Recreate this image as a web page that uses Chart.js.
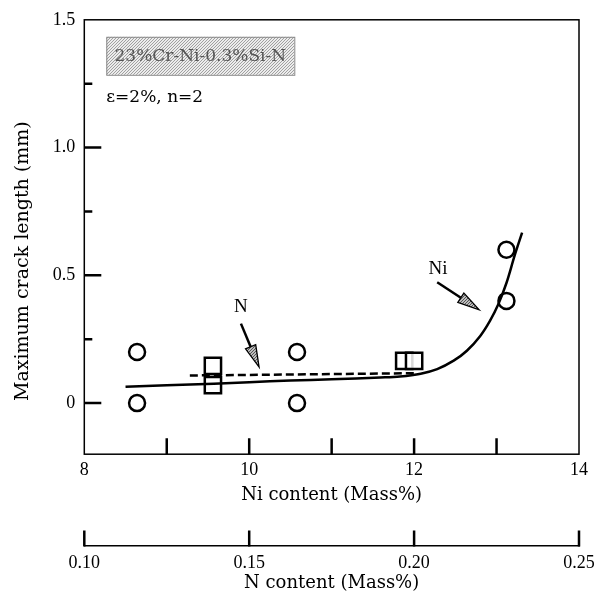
<!DOCTYPE html>
<html><head><meta charset="utf-8">
<script src="https://cdn.jsdelivr.net/npm/chart.js@4.4.0/dist/chart.umd.min.js"></script>
<style>html,body{margin:0;padding:0;background:#fff;}</style>
</head><body>
<canvas id="c" width="613" height="600"></canvas>
<script>
// ---- data ----
const niCircleX = [8.64, 8.64, 10.58, 10.58, 13.12, 13.12];
const niCircleY = [0.20, 0.00, 0.20, 0.00, 0.60, 0.40];
const nSquareX = [0.139, 0.139, 0.197, 0.200];
const nSquareY = [0.146, 0.070, 0.165, 0.165];
const niCurveX = [8.50, 9.00, 9.57, 10.00, 10.50, 11.00, 11.59, 11.83, 12.08, 12.28, 12.48, 12.64, 12.80, 12.92, 13.02, 13.12, 13.22, 13.31];
const niCurveY = [0.064, 0.070, 0.076, 0.082, 0.088, 0.093, 0.100, 0.104, 0.115, 0.133, 0.166, 0.205, 0.262, 0.322, 0.386, 0.470, 0.578, 0.667];
const nTrendX = [0.132, 0.200];
const nTrendY = [0.108, 0.117];
const niTicks = [8, 9, 10, 11, 12, 13, 14];
const niTickLabels = ['8', '', '10', '', '12', '', '14'];
const nTicks = [0.10, 0.15, 0.20, 0.25];
const nTickLabels = ['0.10', '0.15', '0.20', '0.25'];
const yTicks = [0, 0.25, 0.5, 0.75, 1.0, 1.25, 1.5];
const yTickLabels = ['0', '', '0.5', '', '1.0', '', '1.5'];
const alloyLabel = '23%Cr-Ni-0.3%Si-N';
const condLabel = 'ε=2%, n=2';
// annotation arrows in (Ni, crack length) coordinates
const arrowN = {text: 'N', tx: 9.90, ty: 0.377, x1: 9.90, y1: 0.311, x2: 10.12, y2: 0.141};
const arrowNi = {text: 'Ni', tx: 12.29, ty: 0.524, x1: 12.28, y1: 0.473, x2: 12.79, y2: 0.365};

const pts = (xs, ys) => xs.map((x, i) => ({x: x, y: ys[i]}));

const serif = 'DejaVu Serif';
const tickFont = {family: 'Liberation Serif', size: 18, lineHeight: 1.2};

function stipple(ctx, base, dot) {
  const p = document.createElement('canvas');
  p.width = 3; p.height = 3;
  const c = p.getContext('2d');
  c.fillStyle = base; c.fillRect(0, 0, 3, 3);
  c.fillStyle = dot; c.fillRect(0, 0, 1, 1); c.fillRect(2, 1, 1, 1); c.fillRect(1, 2, 1, 1);
  return ctx.createPattern(p, 'repeat');
}

function drawArrow(ctx, x1, y1, x2, y2, fill) {
  const ang = Math.atan2(y2 - y1, x2 - x1);
  const hl = 22, hw = 5.5;
  const bx = x2 - hl * Math.cos(ang), by = y2 - hl * Math.sin(ang);
  ctx.save();
  ctx.strokeStyle = '#000';
  ctx.lineWidth = 2.5;
  ctx.beginPath(); ctx.moveTo(x1, y1); ctx.lineTo(bx, by); ctx.stroke();
  ctx.beginPath();
  ctx.moveTo(x2, y2);
  ctx.lineTo(bx + hw * Math.sin(ang), by - hw * Math.cos(ang));
  ctx.lineTo(bx - hw * Math.sin(ang), by + hw * Math.cos(ang));
  ctx.closePath();
  ctx.fillStyle = fill; ctx.fill();
  ctx.lineWidth = 1.3; ctx.stroke();
  ctx.restore();
}

const decor = {
  id: 'decor',
  afterDraw(chart) {
    const ctx = chart.ctx, a = chart.chartArea;
    const sx = chart.scales.x, sy = chart.scales.y, sn = chart.scales.xN;
    ctx.save();
    // frame
    ctx.strokeStyle = '#000'; ctx.lineWidth = 1.5;
    ctx.strokeRect(a.left, a.top, a.right - a.left, a.bottom - a.top);
    // inner ticks
    ctx.lineWidth = 2.5; ctx.lineCap = 'butt';
    ctx.beginPath();
    sy.ticks.forEach((t, i) => {
      if (t.value >= 1.5) return;
      const len = yTickLabels[i] !== '' ? 17 : 8;
      const y = sy.getPixelForValue(t.value);
      ctx.moveTo(a.left, y); ctx.lineTo(a.left + len, y);
    });
    sx.ticks.forEach(t => {
      if (t.value <= 8 || t.value >= 14) return;
      const x = sx.getPixelForValue(t.value);
      ctx.moveTo(x, a.bottom); ctx.lineTo(x, a.bottom - 16);
    });
    sn.ticks.forEach(t => {
      const x = sn.getPixelForValue(t.value);
      ctx.moveTo(x, sn.top + 1); ctx.lineTo(x, sn.top - 15);
    });
    ctx.stroke();
    // alloy label box
    const bx = a.left + 22, by = a.top + 17, bw = 188, bh = 38;
    ctx.fillStyle = stipple(ctx, '#ececec', '#a0a0a0');
    ctx.fillRect(bx, by, bw, bh);
    ctx.strokeStyle = '#8a8a8a'; ctx.lineWidth = 1;
    ctx.strokeRect(bx + 0.5, by + 0.5, bw, bh);
    ctx.fillStyle = '#555';
    ctx.font = '17px "' + serif + '"';
    ctx.textAlign = 'center'; ctx.textBaseline = 'middle';
    ctx.fillText(alloyLabel, bx + bw / 2, by + bh / 2 + 1);
    ctx.fillStyle = '#000';
    ctx.textAlign = 'left';
    ctx.fillText(condLabel, a.left + 22, a.top + 78);
    // arrows and labels
    const gray = stipple(ctx, '#bdbdbd', '#555');
    [arrowN, arrowNi].forEach(ar => {
      ctx.fillStyle = '#000';
      ctx.font = '19px "Liberation Serif"';
      ctx.textAlign = 'center'; ctx.textBaseline = 'middle';
      ctx.fillText(ar.text, sx.getPixelForValue(ar.tx), sy.getPixelForValue(ar.ty));
      drawArrow(ctx, sx.getPixelForValue(ar.x1), sy.getPixelForValue(ar.y1),
                sx.getPixelForValue(ar.x2), sy.getPixelForValue(ar.y2), gray);
    });
    ctx.restore();
  }
};

new Chart(document.getElementById('c'), {
  type: 'line',
  data: {
    datasets: [
      {label: 'Ni curve', data: pts(niCurveX, niCurveY), xAxisID: 'x', yAxisID: 'y',
       borderColor: '#000', borderWidth: 2.5, pointRadius: 0, fill: false,
       tension: 0.35, order: 0},
      {label: 'N trend', data: pts(nTrendX, nTrendY), xAxisID: 'xN', yAxisID: 'y',
       borderColor: '#000', borderWidth: 2.5, borderDash: [8, 4], pointRadius: 0, fill: false, order: 0},
      {label: 'Ni varied', data: pts(niCircleX, niCircleY), xAxisID: 'x', yAxisID: 'y',
       showLine: false, pointStyle: 'circle', pointRadius: 8, borderWidth: 2.5,
       borderColor: '#000', backgroundColor: '#fff', pointBackgroundColor: '#fff', order: 1},
      {label: 'N varied', data: pts(nSquareX, nSquareY), xAxisID: 'xN', yAxisID: 'y',
       showLine: false, pointStyle: 'rect', pointRadius: 11.5, borderWidth: 2.5,
       borderColor: '#000', backgroundColor: '#fff', pointBackgroundColor: 'rgba(255,255,255,0.85)', order: 1}
    ]
  },
  options: {
    responsive: false, animation: false, devicePixelRatio: 1,
    layout: {padding: {left: 8, right: 34, top: 15, bottom: 8}},
    plugins: {legend: {display: false}, tooltip: {enabled: false}},
    scales: {
      x: {
        type: 'linear', position: 'bottom', weight: 0, min: 8, max: 14,
        afterBuildTicks: s => { s.ticks = niTicks.map(v => ({value: v})); },
        ticks: {callback: (v, i) => niTickLabels[i], padding: 5, font: tickFont, color: '#000',
                maxRotation: 0, autoSkip: false},
        grid: {display: false, drawTicks: false},
        border: {display: false},
        title: {display: true, text: 'Ni content (Mass%)', color: '#000',
                font: {family: serif, size: 18, lineHeight: 1.2}, padding: {top: -1, bottom: 39}}
      },
      xN: {
        type: 'linear', position: 'bottom', weight: 1, min: 0.10, max: 0.25,
        afterBuildTicks: s => { s.ticks = nTicks.map(v => ({value: v})); },
        ticks: {callback: (v, i) => nTickLabels[i], padding: 7, font: tickFont, color: '#000',
                maxRotation: 0, autoSkip: false},
        grid: {display: false, drawTicks: false},
        border: {display: true, color: '#000', width: 1.5},
        title: {display: true, text: 'N content (Mass%)', color: '#000',
                font: {family: serif, size: 18, lineHeight: 1.0}, padding: {top: -7, bottom: 0}}
      },
      y: {
        type: 'linear', position: 'left', min: -0.2, max: 1.5,
        afterBuildTicks: s => { s.ticks = yTicks.map(v => ({value: v})); },
        ticks: {callback: (v, i) => yTickLabels[i], padding: 9, font: tickFont, color: '#000', autoSkip: false},
        grid: {display: false, drawTicks: false},
        border: {display: false},
        title: {display: true, text: 'Maximum crack length (mm)' + '\u00a0'.repeat(8), color: '#000',
                font: {family: serif, size: 19, lineHeight: 1.2}, padding: {top: 4, bottom: 9}}
      }
    }
  },
  plugins: [decor]
});
</script>
</body></html>
